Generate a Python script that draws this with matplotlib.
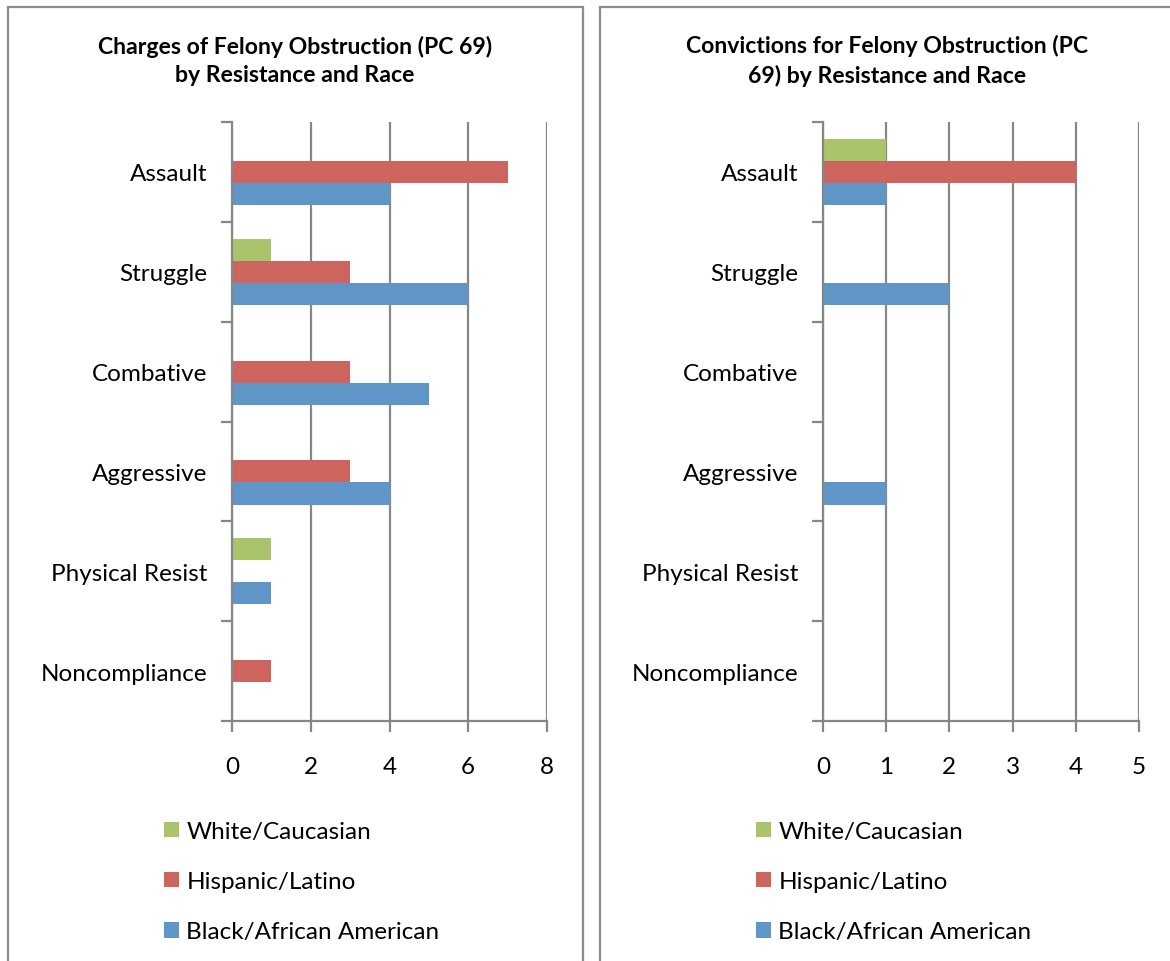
import matplotlib
matplotlib.use("Agg")
import matplotlib.pyplot as plt
from matplotlib.patches import Rectangle, Patch
import numpy as np

plt.rcParams['font.family'] = ['Lato', 'DejaVu Sans']

categories = ["Noncompliance", "Physical Resist", "Aggressive", "Combative", "Struggle", "Assault"]
series_names = ["Black/African American", "Hispanic/Latino", "White/Caucasian"]
colors = ["#5F95C7", "#CD645E", "#A9C46B"]

charges_black = [0, 1, 4, 5, 6, 4]
charges_hispanic = [1, 0, 3, 3, 3, 7]
charges_white = [0, 1, 0, 0, 1, 0]

conv_black = [0, 0, 1, 0, 2, 1]
conv_hispanic = [0, 0, 0, 0, 0, 4]
conv_white = [0, 0, 0, 0, 0, 1]

title_left = "Charges of Felony Obstruction (PC 69)\nby Resistance and Race"
title_right = "Convictions for Felony Obstruction (PC\n69) by Resistance and Race"
xticks_left = [0, 2, 4, 6, 8]
xticks_right = [0, 1, 2, 3, 4, 5]

W, H = 1170, 962
fig = plt.figure(figsize=(W / 100, H / 100), dpi=100)
fig.patch.set_facecolor("white")

grid_col = "#878787"
FS = 17.5

# panel borders
for x0, x1 in [(8, 583), (600, 1175)]:
    fig.add_artist(Rectangle((x0 / W, -0.01), (x1 - x0) / W, (H - 8) / H + 0.01,
                             transform=fig.transFigure, fill=False,
                             edgecolor="#8c8c8c", lw=1.6))


def draw(ax_px, data, xticks, title, title_cx):
    x0, x1, ytop, ybot = ax_px
    ax = fig.add_axes([x0 / W, 1 - ybot / H, (x1 - x0) / W, (ybot - ytop) / H])
    y = np.arange(len(categories))
    h = 0.222
    offsets = [-h, 0, h]
    for vals, col, off, name in zip(data, colors, offsets, series_names):
        ax.barh(y + off, vals, height=h, color=col, lw=0,
                label=name, zorder=3)
    ax.set_xlim(xticks[0], xticks[-1])
    ax.set_ylim(-0.5, len(categories) - 0.5)
    ax.set_xticks(xticks)
    ax.set_xticklabels([str(t) for t in xticks], fontsize=FS)
    ax.set_yticks(y)
    ax.set_yticklabels(categories, fontsize=FS)
    ax.set_yticks(np.arange(-0.5, len(categories)), minor=True)
    ax.tick_params(axis="y", which="major", length=0, pad=18)
    ax.tick_params(axis="y", which="minor", length=8, width=1.6, color=grid_col, direction="out")
    ax.tick_params(axis="x", which="major", length=8, width=1.6, color=grid_col, direction="out", pad=17)
    ax.grid(axis="x", color=grid_col, lw=1.6, zorder=0)
    for s in ["top", "right"]:
        ax.spines[s].set_visible(False)
    for s in ["left", "bottom"]:
        ax.spines[s].set_color(grid_col)
        ax.spines[s].set_linewidth(1.6)
        ax.spines[s].set_zorder(4)
    fig.text(title_cx / W, 1 - 61 / H, title, ha="center", va="center",
             fontsize=16.6, fontweight="bold", linespacing=1.4)
    return ax


draw((232, 547, 123, 722), [charges_black, charges_hispanic, charges_white],
     xticks_left, title_left, 295)
draw((823, 1139, 123, 722), [conv_black, conv_hispanic, conv_white],
     xticks_right, title_right, 887)

for lx in [164, 756]:
    handles = [Patch(facecolor=c, edgecolor="none", label=n)
               for c, n in zip(colors[::-1], series_names[::-1])]
    fig.legend(handles=handles, loc="upper left",
               bbox_to_anchor=(lx / W, 1 - 822 / H), frameon=False,
               fontsize=FS, handlelength=0.62, handleheight=0.62,
               handletextpad=0.3, labelspacing=1.2, borderpad=0, borderaxespad=0)

fig.savefig("out.png", dpi=100, facecolor="white")
